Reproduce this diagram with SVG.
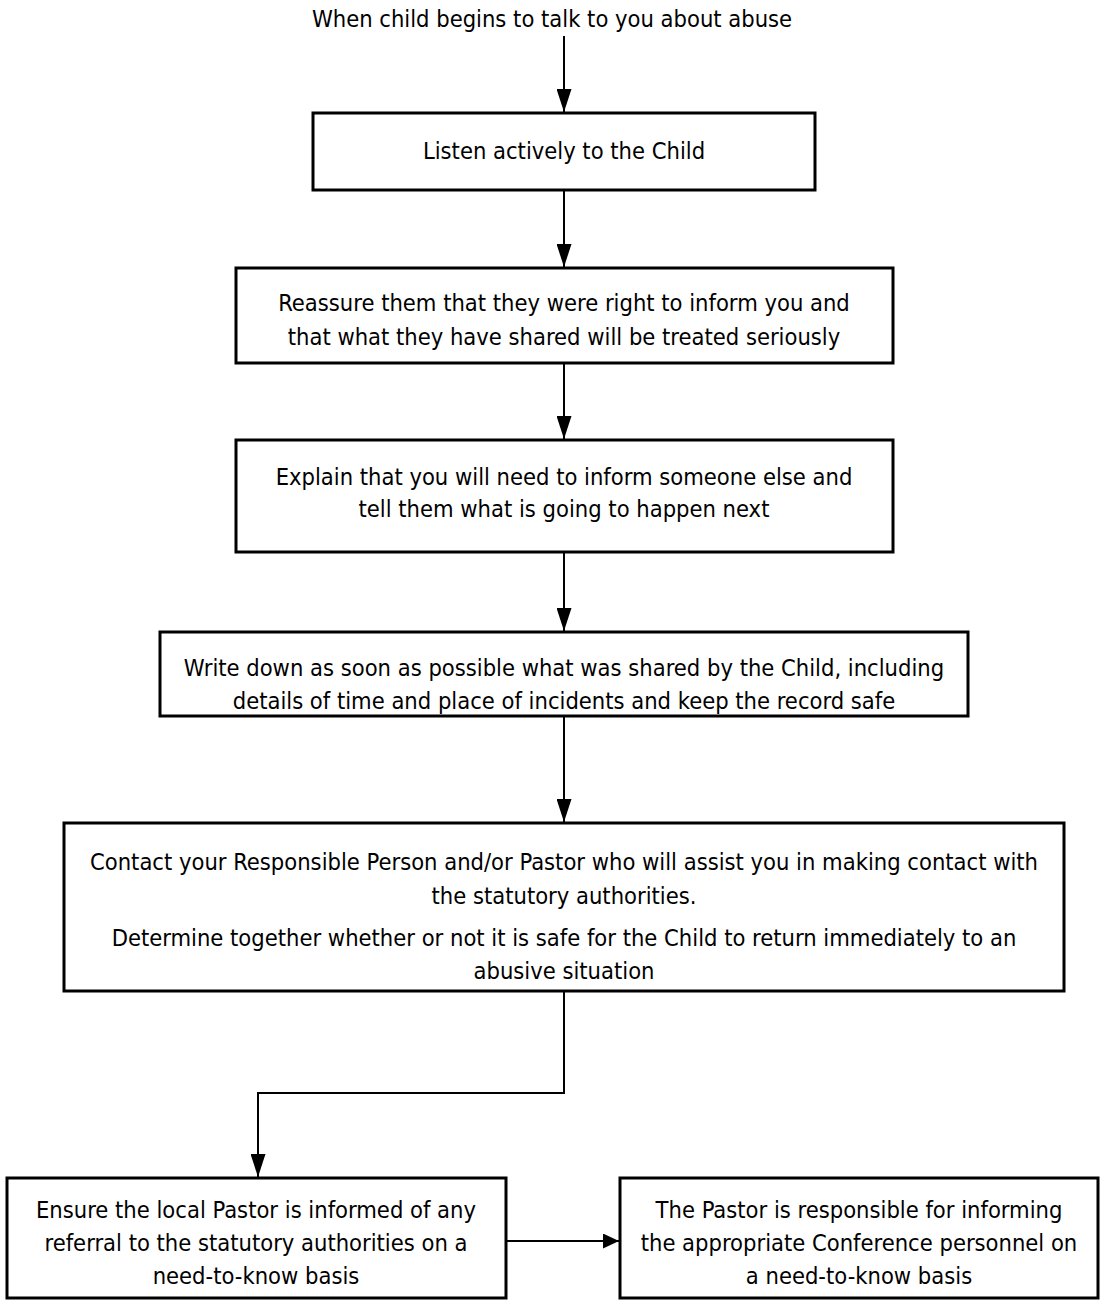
<svg xmlns="http://www.w3.org/2000/svg" width="1104" height="1305" viewBox="0 0 1104 1305">
<style>
text{font-family:"DejaVu Sans Condensed","DejaVu Sans",sans-serif;font-size:23.5px;fill:#000;text-anchor:middle}
.box{fill:#fff;stroke:#000;stroke-width:3}
.ln{fill:none;stroke:#000;stroke-width:2}
</style>
<defs>
<marker id="arr" viewBox="0 0 23 15" refX="23" refY="7.5" markerWidth="23" markerHeight="15" markerUnits="userSpaceOnUse" orient="auto">
<path d="M0,0 L23,7.5 L0,15 Z" fill="#000"/>
</marker>
<marker id="arrh" viewBox="0 0 16 15" refX="16" refY="7.5" markerWidth="16" markerHeight="15" markerUnits="userSpaceOnUse" orient="auto">
<path d="M0,0 L16,7.5 L0,15 Z" fill="#000"/>
</marker>
</defs>
<g id="connectors">
<path class="ln" d="M564,36 V112" marker-end="url(#arr)"/>
<path class="ln" d="M564,190 V267" marker-end="url(#arr)"/>
<path class="ln" d="M564,363 V439" marker-end="url(#arr)"/>
<path class="ln" d="M564,552 V631" marker-end="url(#arr)"/>
<path class="ln" d="M564,716 V822" marker-end="url(#arr)"/>
<path class="ln" d="M564,991 V1093 H258 V1177" marker-end="url(#arr)"/>
<path class="ln" d="M506,1241 H619" marker-end="url(#arrh)"/>
</g>
<g id="start"><text x="552" y="27">When child begins to talk to you about abuse</text></g>
<g id="listen">
<rect class="box" x="313" y="113" width="502" height="77"/>
<text x="564" y="159">Listen actively to the Child</text>
</g>
<g id="reassure">
<rect class="box" x="236" y="268" width="657" height="95"/>
<text x="564" y="311">Reassure them that they were right to inform you and</text>
<text x="564" y="345">that what they have shared will be treated seriously</text>
</g>
<g id="explain">
<rect class="box" x="236" y="440" width="657" height="112"/>
<text x="564" y="485">Explain that you will need to inform someone else and</text>
<text x="564" y="517">tell them what is going to happen next</text>
</g>
<g id="write">
<rect class="box" x="160" y="632" width="808" height="84"/>
<text x="564" y="676">Write down as soon as possible what was shared by the Child, including</text>
<text x="564" y="709">details of time and place of incidents and keep the record safe</text>
</g>
<g id="contact">
<rect class="box" x="64" y="823" width="1000" height="168"/>
<text x="564" y="870">Contact your Responsible Person and/or Pastor who will assist you in making contact with</text>
<text x="564" y="904">the statutory authorities.</text>
<text x="564" y="946">Determine together whether or not it is safe for the Child to return immediately to an</text>
<text x="564" y="979">abusive situation</text>
</g>
<g id="ensure">
<rect class="box" x="7" y="1178" width="499" height="120"/>
<text x="256" y="1218">Ensure the local Pastor is informed of any</text>
<text x="256" y="1251">referral to the statutory authorities on a</text>
<text x="256" y="1284">need-to-know basis</text>
</g>
<g id="pastor">
<rect class="box" x="620" y="1178" width="478" height="120"/>
<text x="859" y="1218">The Pastor is responsible for informing</text>
<text x="859" y="1251">the appropriate Conference personnel on</text>
<text x="859" y="1284">a need-to-know basis</text>
</g>
</svg>
